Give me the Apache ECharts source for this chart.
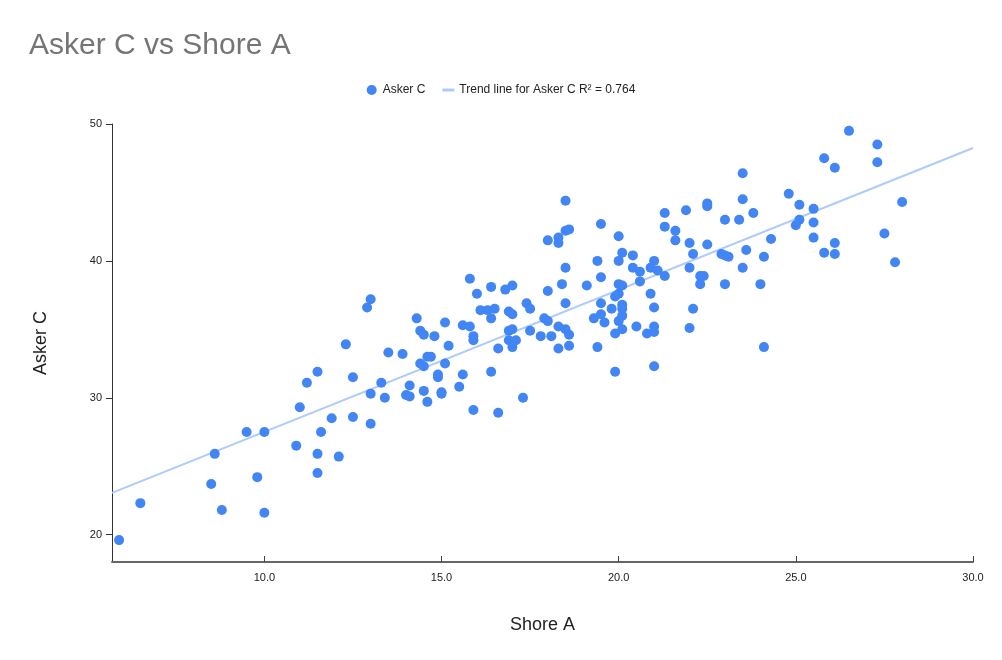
<!DOCTYPE html>
<html>
<head>
<meta charset="utf-8">
<title>Asker C vs Shore A</title>
<script src="https://cdn.jsdelivr.net/npm/echarts@6/dist/echarts.min.js"></script>
<style>
  html, body { margin: 0; padding: 0; background: #fff; }
  #chart { width: 1002px; height: 660px; }
</style>
</head>
<body>
<div id="chart"></div>
<script>
// values
var shoreA = [
  5.9, 6.5, 8.5, 8.6, 8.8, 9.5, 10.0, 9.8, 10.0, 10.9, 11.0, 11.2, 11.5, 11.9, 11.6, 11.5, 11.5,
  12.1, 13.0, 12.9, 12.3, 14.3, 15.1, 16.0, 16.1, 16.3, 16.5, 16.4, 14.4, 14.5, 14.8, 15.6, 15.8,
  15.9, 15.9, 15.2, 13.5, 13.9, 14.6, 14.7, 14.4, 14.5, 15.1, 12.5, 14.9, 14.9, 15.6, 13.3, 14.1,
  15.5, 13.0, 13.4, 14.0, 14.1, 14.5, 15.0, 15.0, 14.6, 15.9, 12.5, 13.0, 16.4, 15.8,
  18.5, 19.5, 18.5, 18.6, 18.0, 18.3, 18.3, 20.0, 20.1, 20.4, 19.4, 20.0, 20.4, 20.6, 18.5, 19.5,
  20.6, 18.4, 19.1, 20.0, 20.1, 16.4, 16.8, 17.0, 18.0, 19.9, 20.0,
  16.9, 17.0, 17.4, 17.5, 18.5, 19.5, 19.8, 20.1, 20.1, 20.1, 20.0, 19.5, 19.6, 19.3, 20.5, 20.1,
  19.9, 17.9, 18.0, 18.3, 18.5, 18.6, 17.5, 17.8, 18.1, 18.6, 18.3, 16.9, 17.0, 16.9, 17.1, 17.0,
  16.6, 19.4, 19.9, 17.3, 16.6,
  23.5, 24.8, 25.1, 21.3, 21.9, 22.5, 22.5, 23.5, 23.8, 23.0, 23.4, 21.3, 21.6, 21.6, 22.0, 22.5,
  22.1, 22.9, 23.0, 23.1, 23.6, 24.3, 24.1, 22.0, 23.5, 20.9, 21.0, 21.1, 21.3, 22.3, 22.4, 22.3,
  23.0, 24.0, 20.9, 21.0, 22.1, 21.0, 21.0, 20.8, 22.0, 24.1, 21.0,
  26.5, 27.3, 27.3, 25.8, 26.1, 25.5, 28.0, 25.1, 25.0, 25.5, 25.5, 27.5, 26.1, 25.8, 26.1, 27.8
];
var askerC = [
  19.6, 22.3, 23.7, 25.9, 21.8, 27.5, 27.5, 24.2, 21.6, 26.5, 29.3, 31.1, 31.9, 28.5, 27.5, 25.9, 24.5,
  25.7, 37.2, 36.6, 33.9, 35.8, 35.5, 37.6, 36.4, 36.4, 36.5, 35.8, 34.9, 34.6, 34.5, 35.3, 35.2,
  34.5, 34.2, 33.8, 33.3, 33.2, 33.0, 33.0, 32.5, 32.3, 32.5, 31.5, 31.7, 31.5, 31.7, 31.1, 30.9,
  30.8, 30.3, 30.0, 30.2, 30.1, 30.5, 30.4, 30.3, 29.7, 29.1, 28.6, 28.1, 31.9, 38.7,
  44.4, 42.7, 42.2, 42.3, 41.5, 41.7, 41.3, 41.8, 40.6, 40.4, 40.0, 40.0, 39.5, 39.2, 39.5, 38.8,
  38.5, 38.3, 38.2, 38.3, 38.2, 38.1, 37.9, 38.2, 37.8, 37.4, 37.6,
  36.3, 36.1, 36.9, 36.5, 36.9, 36.9, 36.5, 36.8, 36.5, 36.0, 35.6, 36.1, 35.5, 35.8, 35.2, 35.0,
  34.7, 35.8, 35.6, 35.2, 35.0, 34.6, 34.9, 34.5, 34.5, 33.8, 33.6, 34.9, 35.0, 34.2, 34.2, 33.7,
  33.6, 33.7, 31.9, 30.0, 28.9,
  46.4, 44.9, 44.1, 43.5, 43.7, 44.2, 44.0, 44.5, 43.5, 43.0, 43.0, 42.5, 42.2, 41.5, 41.3, 41.2,
  40.5, 40.5, 40.4, 40.3, 40.8, 41.6, 40.3, 39.5, 39.5, 39.5, 40.0, 39.3, 38.9, 38.9, 38.9, 38.3,
  38.3, 38.3, 37.6, 36.6, 36.5, 35.2, 34.8, 34.7, 35.1, 33.7, 32.3,
  49.5, 48.5, 47.2, 47.5, 46.8, 43.8, 44.3, 43.0, 42.6, 42.8, 41.7, 42.0, 41.3, 40.6, 40.5, 39.9
];
// trend line end points as drawn in the reference
var trendShore = [5.7, 30.0];
var trendAsker = [23.05, 48.25];
var xTicks = [10, 15, 20, 25, 30];
var yTicks = [20, 30, 40, 50];

var seriesName = 'Asker C';
var trendName = 'Trend line for Asker C R\u00b2 = 0.764';
var font = 'Arial, "Liberation Sans", sans-serif';

var points = shoreA.map(function (x, i) { return [x, askerC[i]]; });
var trend = trendShore.map(function (x, i) { return [x, trendAsker[i]]; });

var chart = echarts.init(document.getElementById('chart'));
chart.setOption({
  animation: false,
  textStyle: { fontFamily: font },
  title: {
    text: 'Asker C vs Shore A',
    left: 29,
    top: 31,
    padding: 0,
    textStyle: { fontSize: 30, fontWeight: 'normal', color: '#757575', fontFamily: font }
  },
  legend: {
    top: 79,
    left: 'center',
    itemWidth: 12,
    itemHeight: 10,
    itemGap: 17,
    textStyle: { fontSize: 12, color: '#222', fontFamily: font },
    data: [
      { name: seriesName, icon: 'circle' },
      { name: trendName, icon: 'path://M0,0 L12,0 L12,3 L0,3 Z' }
    ]
  },
  grid: { left: 112, right: 29, top: 124, bottom: 98 },
  xAxis: {
    type: 'value',
    min: 5.7,
    max: 30,
    name: 'Shore A',
    nameLocation: 'middle',
    nameGap: 54,
    nameTextStyle: { fontSize: 18, color: '#222', fontFamily: font },
    axisLine: { show: true, lineStyle: { color: '#666', width: 2 } },
    axisTick: { show: true, inside: true, length: 6, customValues: xTicks, lineStyle: { color: '#444' } },
    axisLabel: {
      customValues: xTicks, margin: 10, fontSize: 11, color: '#222',
      formatter: function (v) { return v.toFixed(1); }
    },
    splitLine: { show: false }
  },
  yAxis: {
    type: 'value',
    min: 18,
    max: 50,
    name: 'Asker C',
    nameLocation: 'middle',
    nameGap: 62,
    nameTextStyle: { fontSize: 18, color: '#222', fontFamily: font },
    axisLine: { show: true, lineStyle: { color: '#333', width: 1 } },
    axisTick: { show: true, length: 6, customValues: yTicks, lineStyle: { color: '#333' } },
    axisLabel: { customValues: yTicks, margin: 10, fontSize: 11, color: '#222' },
    splitLine: { show: false }
  },
  series: [
    {
      name: trendName,
      type: 'line',
      data: trend,
      symbol: 'none',
      silent: true,
      z: 1,
      lineStyle: { color: '#AECBFA', width: 2 },
      itemStyle: { color: '#AECBFA' }
    },
    {
      name: seriesName,
      type: 'scatter',
      data: points,
      symbolSize: 10,
      z: 2,
      itemStyle: { color: '#4285F4', opacity: 1 }
    }
  ]
});
</script>
</body>
</html>
